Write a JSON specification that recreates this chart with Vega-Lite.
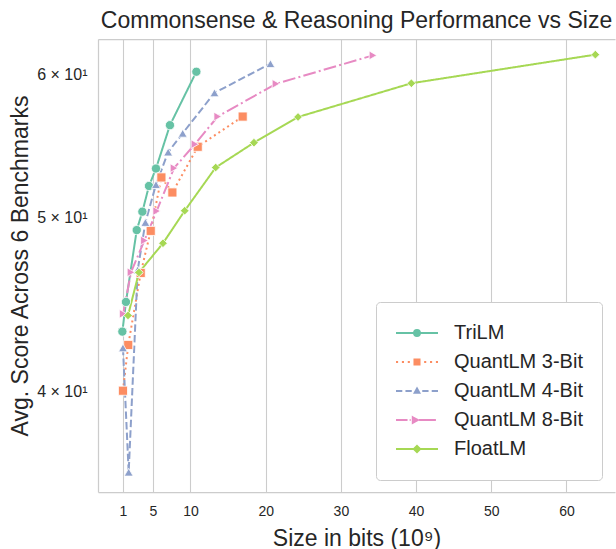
{
  "$schema": "https://vega.github.io/schema/vega-lite/v6.json",
  "width": 517,
  "height": 453,
  "autosize": {"type": "none"},
  "padding": {"left": 98, "top": 39, "right": 1, "bottom": 57},
  "background": "white",
  "title": {"text": "Commonsense & Reasoning Performance vs Size", "fontSize": 23, "font": "Liberation Sans", "fontWeight": "normal", "color": "#262626", "anchor": "middle", "offset": 6},
  "data": {"values": [
    {"model": "TriLM", "size": 0.94, "score": 43.2},
    {"model": "TriLM", "size": 1.42, "score": 44.87},
    {"model": "TriLM", "size": 2.85, "score": 49.18},
    {"model": "TriLM", "size": 3.6, "score": 50.35},
    {"model": "TriLM", "size": 4.48, "score": 52.03},
    {"model": "TriLM", "size": 5.41, "score": 53.2},
    {"model": "TriLM", "size": 7.27, "score": 56.23},
    {"model": "TriLM", "size": 10.78, "score": 60.2},
    {"model": "QuantLM 3-Bit", "size": 1.02, "score": 40.06},
    {"model": "QuantLM 3-Bit", "size": 1.72, "score": 42.47},
    {"model": "QuantLM 3-Bit", "size": 3.38, "score": 46.56},
    {"model": "QuantLM 3-Bit", "size": 4.71, "score": 49.13},
    {"model": "QuantLM 3-Bit", "size": 6.13, "score": 52.6},
    {"model": "QuantLM 3-Bit", "size": 7.59, "score": 51.6},
    {"model": "QuantLM 3-Bit", "size": 10.96, "score": 54.7},
    {"model": "QuantLM 3-Bit", "size": 16.94, "score": 56.85},
    {"model": "QuantLM 4-Bit", "size": 1.02, "score": 42.31},
    {"model": "QuantLM 4-Bit", "size": 1.78, "score": 36.1},
    {"model": "QuantLM 4-Bit", "size": 2.98, "score": 46.74},
    {"model": "QuantLM 4-Bit", "size": 4.0, "score": 49.66},
    {"model": "QuantLM 4-Bit", "size": 5.41, "score": 52.12},
    {"model": "QuantLM 4-Bit", "size": 7.03, "score": 54.33},
    {"model": "QuantLM 4-Bit", "size": 8.96, "score": 55.65},
    {"model": "QuantLM 4-Bit", "size": 13.19, "score": 58.6},
    {"model": "QuantLM 4-Bit", "size": 20.63, "score": 60.82},
    {"model": "QuantLM 8-Bit", "size": 1.05, "score": 44.19},
    {"model": "QuantLM 8-Bit", "size": 2.09, "score": 46.6},
    {"model": "QuantLM 8-Bit", "size": 3.87, "score": 48.53},
    {"model": "QuantLM 8-Bit", "size": 5.5, "score": 50.39},
    {"model": "QuantLM 8-Bit", "size": 7.81, "score": 53.23},
    {"model": "QuantLM 8-Bit", "size": 10.59, "score": 54.88},
    {"model": "QuantLM 8-Bit", "size": 13.62, "score": 56.85},
    {"model": "QuantLM 8-Bit", "size": 21.37, "score": 59.28},
    {"model": "QuantLM 8-Bit", "size": 34.27, "score": 61.47},
    {"model": "FloatLM", "size": 1.69, "score": 44.1},
    {"model": "FloatLM", "size": 3.15, "score": 46.59},
    {"model": "FloatLM", "size": 6.34, "score": 48.36},
    {"model": "FloatLM", "size": 9.23, "score": 50.41},
    {"model": "FloatLM", "size": 13.35, "score": 53.27},
    {"model": "FloatLM", "size": 18.44, "score": 54.99},
    {"model": "FloatLM", "size": 24.3, "score": 56.82},
    {"model": "FloatLM", "size": 39.37, "score": 59.32},
    {"model": "FloatLM", "size": 63.84, "score": 61.53}
  ]},
  "encoding": {
    "y": {
      "field": "score", "type": "quantitative",
      "scale": {"type": "log", "domain": [35.2, 62.77], "nice": false},
      "axis": {
        "values": [40, 50, 60],
        "labelExpr": "datum.value / 10 + ' × 10¹'",
        "grid": false, "ticks": false, "domain": true,
        "labelFontSize": 16, "labelPadding": 11,
        "title": "Avg. Score Across 6 Benchmarks", "titleFontSize": 23, "titlePadding": 4
      }
    }
  },
  "layer": [
    {
      "mark": {"type": "line", "strokeWidth": 2},
      "encoding": {
        "x": {
          "field": "size", "type": "quantitative",
          "scale": {"domain": [-2.3, 66.45], "nice": false, "zero": false},
          "axis": {
            "values": [1, 5, 10, 20, 30, 40, 50, 60],
            "grid": true, "ticks": false, "domain": true,
            "labelFontSize": 14, "labelPadding": 12, "labelFlush": false, "labelOverlap": false,
            "title": "Size in bits (10⁹)", "titleFontSize": 23, "titlePadding": 9
          }
        },
        "color": {
          "field": "model", "type": "nominal",
          "scale": {
            "domain": ["TriLM", "QuantLM 3-Bit", "QuantLM 4-Bit", "QuantLM 8-Bit", "FloatLM"],
            "range": ["#66c2a5", "#fc8d62", "#8da0cb", "#e78ac3", "#a6d854"]
          },
          "legend": null
        },
        "strokeDash": {
          "field": "model", "type": "nominal",
          "scale": {
            "domain": ["TriLM", "QuantLM 3-Bit", "QuantLM 4-Bit", "QuantLM 8-Bit", "FloatLM"],
            "range": [[1, 0], [2, 3.3], [7.4, 3.2], [12.8, 3.2, 2, 3.2], [1, 0]]
          },
          "legend": null
        }
      }
    },
    {
      "mark": {"type": "point", "filled": true, "opacity": 1, "stroke": "white", "strokeWidth": 0.8},
      "encoding": {
        "x": {
          "field": "size", "type": "quantitative",
          "axis": {"orient": "top", "labels": false, "ticks": false, "grid": false, "title": null, "domain": true}
        },
        "color": {
          "field": "model", "type": "nominal",
          "scale": {
            "domain": ["TriLM", "QuantLM 3-Bit", "QuantLM 4-Bit", "QuantLM 8-Bit", "FloatLM"],
            "range": ["#66c2a5", "#fc8d62", "#8da0cb", "#e78ac3", "#a6d854"]
          },
          "legend": null
        },
        "shape": {
          "field": "model", "type": "nominal",
          "scale": {
            "domain": ["TriLM", "QuantLM 3-Bit", "QuantLM 4-Bit", "QuantLM 8-Bit", "FloatLM"],
            "range": ["circle", "square", "triangle-up", "triangle-right", "diamond"]
          },
          "legend": null
        },
        "size": {
          "field": "model", "type": "nominal",
          "scale": {
            "domain": ["TriLM", "QuantLM 3-Bit", "QuantLM 4-Bit", "QuantLM 8-Bit", "FloatLM"],
            "range": [85, 75, 70, 70, 115]
          },
          "legend": null
        }
      }
    },
    {
      "transform": [{"filter": "false"}],
      "mark": {"type": "point", "filled": false, "opacity": 1},
      "encoding": {
        "color": {
          "field": "model", "type": "nominal",
          "scale": {
            "domain": ["TriLM", "QuantLM 3-Bit", "QuantLM 4-Bit", "QuantLM 8-Bit", "FloatLM"],
            "range": ["#66c2a5", "#fc8d62", "#8da0cb", "#e78ac3", "#a6d854"]
          },
          "legend": {
            "orient": "none", "legendX": 278, "legendY": 263, "title": null,
            "labelFontSize": 20, "labelFont": "Liberation Sans", "labelColor": "#262626",
            "padding": 19, "rowPadding": 5, "labelOffset": 15, "clipHeight": 24,
            "symbolSize": 1764, "symbolStrokeWidth": 2, "symbolOpacity": 1,
            "fillColor": "white", "strokeColor": "#cccccc", "cornerRadius": 4
          }
        },
        "shape": {
          "field": "model", "type": "nominal",
          "scale": {
            "domain": ["TriLM", "QuantLM 3-Bit", "QuantLM 4-Bit", "QuantLM 8-Bit", "FloatLM"],
            "range": [
              "M-1,0H1M-0.14,0A0.14,0.14 0 1,0 0.14,0A0.14,0.14 0 1,0 -0.14,0M-0.05,0A0.05,0.05 0 1,0 0.05,0A0.05,0.05 0 1,0 -0.05,0",
              "M-1,0h0.1M-0.72,0h0.1M-0.44,0h0.1M0.34,0h0.1M0.62,0h0.1M0.9,0h0.1M-0.12,-0.12H0.12V0.12H-0.12ZM-0.03,-0.03H0.03V0.03H-0.03Z",
              "M-1,0H-0.7M-0.55,0H-0.25M0.25,0H0.55M0.7,0H1M0,-0.12L0.11,0.08L-0.11,0.08ZM0,-0.03V0.05",
              "M-1,0H-0.45M-0.35,0H-0.3M0.1,0H0.9M-0.2,-0.13L0.04,0L-0.2,0.13ZM-0.15,0H-0.05",
              "M-1,0H1M0,-0.15L0.15,0L0,0.15L-0.15,0ZM0,-0.06L0.06,0L0,0.06L-0.06,0Z"
            ]
          },
          "legend": {
            "orient": "none", "legendX": 278, "legendY": 263, "title": null,
            "labelFontSize": 20, "labelFont": "Liberation Sans", "labelColor": "#262626",
            "padding": 19, "rowPadding": 5, "labelOffset": 15, "clipHeight": 24,
            "symbolSize": 1764, "symbolStrokeWidth": 2, "symbolOpacity": 1,
            "fillColor": "white", "strokeColor": "#cccccc", "cornerRadius": 4
          }
        }
      }
    }
  ],
  "resolve": {
    "axis": {"x": "independent"},
    "scale": {"color": "independent", "shape": "independent"}
  },
  "config": {
    "view": {"stroke": null},
    "font": "Liberation Sans",
    "axis": {
      "domainColor": "#cccccc", "domainWidth": 1.25,
      "gridColor": "#cccccc", "gridWidth": 1.1,
      "labelFont": "Liberation Sans", "titleFont": "Liberation Sans",
      "labelColor": "#262626", "titleColor": "#262626", "titleFontWeight": "normal"
    }
  }
}
